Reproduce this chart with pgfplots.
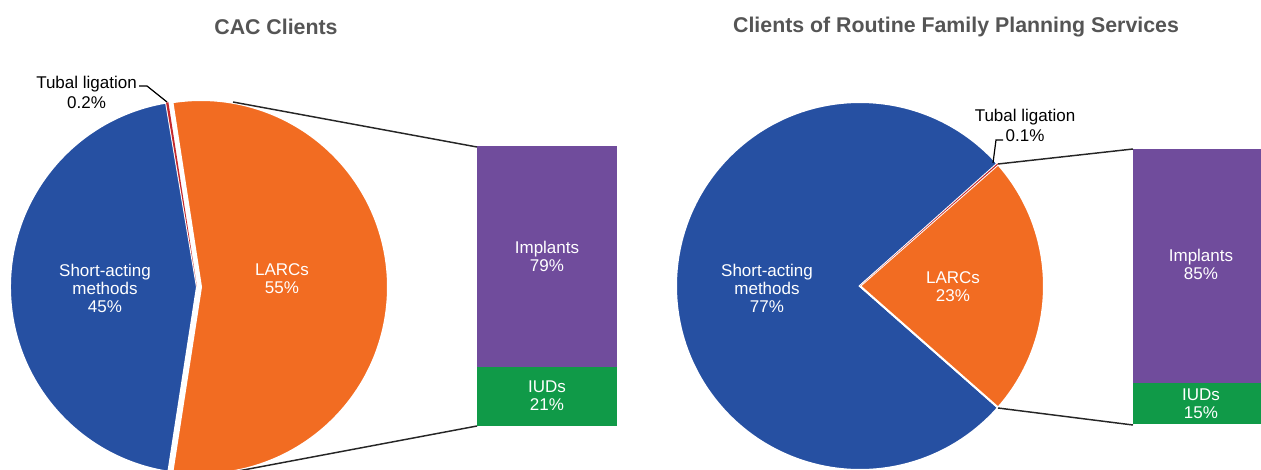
\documentclass[border=0pt]{standalone}
\usepackage{pgfplots}
\pgfplotsset{compat=1.18}
\usepackage{pgfplotstable}
\usepackage{fontspec}
\setmainfont{Liberation Sans}

\definecolor{shortblue}{RGB}{38,80,162}
\definecolor{larcorange}{RGB}{242,108,34}
\definecolor{tubalred}{RGB}{196,40,45}
\definecolor{implpurple}{RGB}{112,76,156}
\definecolor{iudgreen}{RGB}{16,154,72}
\definecolor{titlegray}{RGB}{85,85,85}

% pie data (percent)
\pgfplotstableread{
slice value
short 45
larc  55
tubal 0.2
}\cacpie
\pgfplotstableread{
slice value
short 77
larc  23
tubal 0.1
}\routpie

\tikzset{
  lbl/.style={text=white, align=center, font=\fontsize{12.75}{13.5}\selectfont},
  blk/.style={text=black, align=center, font=\fontsize{12.75}{15}\selectfont},
}
\pgfplotsset{
  barax/.style={anchor=north west, scale only axis, hide axis, width=105pt,
    xmin=-0.5, xmax=0.5, ymin=0, ymax=100, ybar stacked, bar width=105pt, clip=false},
}

% angles of a pie: larc centred on 0 deg, tubal next, short rest
\newcommand\pieangles[2]{%
  \pgfplotstablegetelem{0}{value}\of#1\let\vS\pgfplotsretval
  \pgfplotstablegetelem{1}{value}\of#1\let\vL\pgfplotsretval
  \pgfplotstablegetelem{2}{value}\of#1\let\vT\pgfplotsretval
  \pgfmathsetmacro\tot{\vS+\vL+\vT}%
  \pgfmathsetmacro\aL{\vL/\tot*180}%
  \pgfmathsetmacro\aT{\aL+\vT/\tot*360}%
  \pgfmathsetmacro\aE{360-\aL}%
  \expandafter\xdef\csname #2aL\endcsname{\aL}%
  \expandafter\xdef\csname #2aT\endcsname{\aT}%
  \expandafter\xdef\csname #2aE\endcsname{\aE}%
}
\pieangles{\cacpie}{cac}
\pieangles{\routpie}{rout}

\begin{document}
\begin{tikzpicture}
\useasboundingbox (0,0) rectangle (945.75pt,-352.5pt);
\clip (0,0) rectangle (945.75pt,-352.5pt);

% left bar of pie
\begin{axis}[barax, at={(477*0.75pt,-146*0.75pt)}, height=210pt]
  \addplot[fill=iudgreen, draw=none] coordinates {(0,21)};
  \addplot[fill=implpurple, draw=none] coordinates {(0,79)};
\end{axis}

% right bar of pie
\begin{axis}[barax, at={(1133*0.75pt,-149*0.75pt)}, height=206.25pt]
  \addplot[fill=iudgreen, draw=none] coordinates {(0,15)};
  \addplot[fill=implpurple, draw=none] coordinates {(0,85)};
\end{axis}

% canvas axis in pixel units (1px = 0.75pt)
\begin{axis}[at={(0,0)}, anchor=north west, scale only axis,
  width=945.75pt, height=352.5pt, xmin=0, xmax=1261, ymin=0, ymax=470,
  y dir=reverse, hide axis, clip=false]

  % titles
  \node[text=titlegray, font=\bfseries\fontsize{16}{19}\selectfont] at (axis cs:276,27) {CAC Clients};
  \node[text=titlegray, font=\bfseries\fontsize{16}{19}\selectfont] at (axis cs:956,27) {Clients of Routine Family Planning Services};

  % left pie (r = 187px)
  \fill[shortblue, draw=white, line width=1.5pt] (axis cs:197,287) -- ++(\cacaT:140.25pt)
    arc[start angle=\cacaT, end angle=\cacaE, radius=140.25pt] -- cycle;
  \fill[larcorange, draw=white, line width=1.5pt] (axis cs:201,287) -- ++(-\cacaL:140.25pt)
    arc[start angle=-\cacaL, end angle=\cacaL, radius=140.25pt] -- cycle;
  \fill[tubalred] (axis cs:197,287) -- ++(\cacaL:140.25pt)
    arc[start angle=\cacaL, end angle=\cacaT, radius=140.25pt] -- cycle;

  % right pie (r = 184px)
  \fill[shortblue, draw=white, line width=1.5pt] (axis cs:860,286) -- ++(\routaT:138pt)
    arc[start angle=\routaT, end angle=\routaE, radius=138pt] -- cycle;
  \fill[larcorange, draw=white, line width=1.5pt] (axis cs:860,286) -- ++(-\routaL:138pt)
    arc[start angle=-\routaL, end angle=\routaL, radius=138pt] -- cycle;
  \fill[tubalred] (axis cs:860,286) -- ++(\routaL:138pt)
    arc[start angle=\routaL, end angle=\routaT, radius=138pt] -- cycle;

  % connector lines
  \draw[black!85, line width=1.1pt] (axis cs:233,102) -- (axis cs:477,147);
  \draw[black!85, line width=1.1pt] (axis cs:238,471) -- (axis cs:477,426);
  \draw[black!85, line width=1.1pt] (axis cs:998,164) -- (axis cs:1133,149);
  \draw[black!85, line width=1.1pt] (axis cs:998,408) -- (axis cs:1133,425);

  % pie labels
  \node[lbl] at (axis cs:105,288) {Short-acting\\methods\\45\%};
  \node[lbl] at (axis cs:282,279) {LARCs\\55\%};
  \node[lbl] at (axis cs:767,288) {Short-acting\\methods\\77\%};
  \node[lbl] at (axis cs:953,287) {LARCs\\23\%};

  % bar labels
  \node[lbl] at (axis cs:547,256) {Implants\\79\%};
  \node[lbl] at (axis cs:547,396) {IUDs\\21\%};
  \node[lbl] at (axis cs:1201,264) {Implants\\85\%};
  \node[lbl] at (axis cs:1201,404) {IUDs\\15\%};

  % tubal ligation callouts
  \node[blk] at (axis cs:86.5,92) {Tubal ligation\\0.2\%};
  \draw[black, line width=0.9pt] (axis cs:139,86) -- (axis cs:147,86) -- (axis cs:167,102);
  \node[blk] at (axis cs:1025,125) {Tubal ligation\\0.1\%};
  \draw[black, line width=0.9pt] (axis cs:1003,140) -- (axis cs:996,140) -- (axis cs:993,163);
\end{axis}
\end{tikzpicture}
\end{document}
